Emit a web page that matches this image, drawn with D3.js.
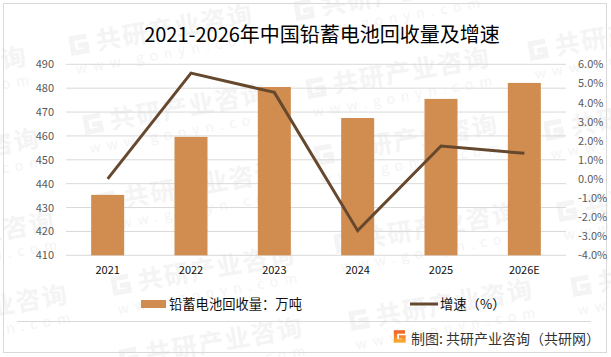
<!DOCTYPE html>
<html>
<head>
<meta charset="utf-8">
<script src="https://cdn.jsdelivr.net/npm/d3@7"></script>
<style>
html, body { margin: 0; padding: 0; background: #fff; }
svg { display: block; }
text { font-family: "Noto Sans CJK SC", "Liberation Sans", sans-serif; }
</style>
</head>
<body>
<div id="chart"></div>
<script>
// chart values
const years = ["2021", "2022", "2023", "2024", "2025", "2026E"];
const recovery = [435.3, 459.6, 480.5, 467.5, 475.5, 482.2];
const growth = [0, 5.54, 4.53, -2.71, 1.72, 1.34];
const leftTicks = [410, 420, 430, 440, 450, 460, 470, 480, 490];
const rightTicks = [-4, -3, -2, -1, 0, 1, 2, 3, 4, 5, 6];

const titleText = "2021-2026年中国铅蓄电池回收量及增速";
const barName = "铅蓄电池回收量：万吨";
const lineName = "增速（%）";
const sourceText = "制图: 共研产业咨询（共研网）";
const markName = "共研产业咨询";
const markUrl = "www.gonyn.com";

// start point of each repeated watermark
const markSpots = [
  [-156, 97], [70, 55], [295, 20], [-143, 179], [84, 134], [307, 98], [529, 60],
  [-128, 262], [98, 212], [315, 165], [545, 140], [-115, 335], [112, 295], [335, 253],
  [558, 221], [120, 368], [350, 330], [572, 296]
];

const width = 611, height = 357;
const margin = {top: 64.3, right: 45, bottom: 101.7, left: 66};

// the G of the logo, in a 13 x 13 box
const logoPath = "M12,2 H2.5 V11 H11 V7 H6";

const svg = d3.select("#chart")
  .append("svg")
    .attr("width", width)
    .attr("height", height);

const grad = svg.append("defs").append("linearGradient")
    .attr("id", "logoFill")
    .attr("gradientUnits", "userSpaceOnUse")
    .attr("x1", 0).attr("y1", 0).attr("x2", 0).attr("y2", 13);
grad.append("stop").attr("offset", "0%").attr("stop-color", "#ee5a24");
grad.append("stop").attr("offset", "100%").attr("stop-color", "#f9b233");

// watermark goes under everything
const marks = svg.append("g").selectAll("g")
  .data(markSpots)
  .enter().append("g")
    .attr("transform", d => `translate(${d[0]},${d[1]}) rotate(-10)`)
    .attr("fill", "#f4f4f4");
marks.append("path")
    .attr("d", logoPath)
    .attr("transform", "translate(0,-19) scale(1.6)")
    .attr("fill", "none")
    .attr("stroke", "#f4f4f4")
    .attr("stroke-width", 3.2);
marks.append("text")
    .attr("x", 28)
    .attr("font-size", 25)
    .attr("font-weight", 700)
    .attr("textLength", 158)
    .attr("lengthAdjust", "spacing")
    .text(markName);
marks.append("text")
    .attr("x", 3)
    .attr("y", 20)
    .attr("font-size", 14)
    .attr("textLength", 182)
    .attr("lengthAdjust", "spacing")
    .attr("font-family", "Liberation Sans")
    .text(markUrl);

// frame
svg.append("rect")
    .attr("x", 3.5).attr("y", 3.5)
    .attr("width", 603).attr("height", 349)
    .attr("fill", "none")
    .attr("stroke", "#d9d9d9");

svg.append("text")
    .attr("x", 322)
    .attr("y", 42)
    .attr("text-anchor", "middle")
    .attr("font-size", 20)
    .attr("fill", "#000")
    .text(titleText);

const plotBottom = height - margin.bottom;

const x = d3.scaleBand()
    .domain(years)
    .range([margin.left, width - margin.right]);

const yLeft = d3.scaleLinear()
    .domain([410, 490])
    .range([plotBottom, margin.top]);

const yRight = d3.scaleLinear()
    .domain([-4, 6])
    .range([plotBottom, margin.top]);

// gridlines
svg.append("g")
  .selectAll("line")
  .data(leftTicks)
  .enter().append("line")
    .attr("x1", margin.left)
    .attr("x2", width - margin.right)
    .attr("y1", d => yLeft(d))
    .attr("y2", d => yLeft(d))
    .attr("stroke", "#d9d9d9")
    .attr("stroke-width", 1);

// left axis
const leftAxis = svg.append("g")
    .attr("transform", `translate(${margin.left},0)`)
    .call(d3.axisLeft(yLeft).tickValues(leftTicks).tickSize(0).tickPadding(12));
leftAxis.select(".domain").remove();
leftAxis.selectAll("text")
    .attr("font-size", 11)
    .attr("font-family", "Liberation Sans")
    .attr("fill", "#595959");

// right axis
const rightAxis = svg.append("g")
    .attr("transform", `translate(${width - margin.right},0)`)
    .call(d3.axisRight(yRight).tickValues(rightTicks).tickSize(0).tickPadding(12)
      .tickFormat(d => d.toFixed(1) + "%"));
rightAxis.select(".domain").remove();
rightAxis.selectAll("text")
    .attr("font-size", 11)
    .attr("font-family", "Liberation Sans")
    .attr("fill", "#595959");

// bottom labels
const bottomAxis = svg.append("g")
    .attr("transform", `translate(0,${plotBottom})`)
    .call(d3.axisBottom(x).tickSize(0).tickPadding(11));
bottomAxis.select(".domain").remove();
bottomAxis.selectAll("text")
    .attr("font-size", 11)
    .attr("font-family", "Noto Sans")
    .attr("fill", "#111");

// bars
svg.append("g")
  .selectAll("rect")
  .data(recovery)
  .enter().append("rect")
    .attr("x", (d, i) => x(years[i]) + x.bandwidth() / 2 - 16.5)
    .attr("y", d => yLeft(d))
    .attr("width", 33)
    .attr("height", d => plotBottom - yLeft(d))
    .attr("fill", "#d18c4f");

// line
const line = d3.line()
    .x((d, i) => x(years[i]) + x.bandwidth() / 2)
    .y(d => yRight(d));

svg.append("path")
    .datum(growth)
    .attr("d", line)
    .attr("fill", "none")
    .attr("stroke", "#66482e")
    .attr("stroke-width", 3);

// legend
svg.append("rect")
    .attr("x", 141).attr("y", 300)
    .attr("width", 25).attr("height", 8)
    .attr("fill", "#d18c4f");
svg.append("text")
    .attr("x", 169).attr("y", 309)
    .attr("font-size", 13.3)
    .attr("fill", "#111")
    .text(barName);
svg.append("line")
    .attr("x1", 410).attr("x2", 438)
    .attr("y1", 304).attr("y2", 304)
    .attr("stroke", "#66482e")
    .attr("stroke-width", 3);
svg.append("text")
    .attr("x", 440).attr("y", 309)
    .attr("font-size", 13.3)
    .attr("fill", "#111")
    .text(lineName);

// source strip
svg.append("line")
    .attr("x1", 17).attr("x2", 591)
    .attr("y1", 321.5).attr("y2", 321.5)
    .attr("stroke", "#d9d9d9");

svg.append("path")
    .attr("transform", "translate(393,330)")
    .attr("d", logoPath)
    .attr("fill", "none")
    .attr("stroke", "url(#logoFill)")
    .attr("stroke-width", 3.4);

svg.append("text")
    .attr("x", 411).attr("y", 344)
    .attr("font-size", 14)
    .attr("fill", "#333")
    .text(sourceText);
</script>
</body>
</html>
